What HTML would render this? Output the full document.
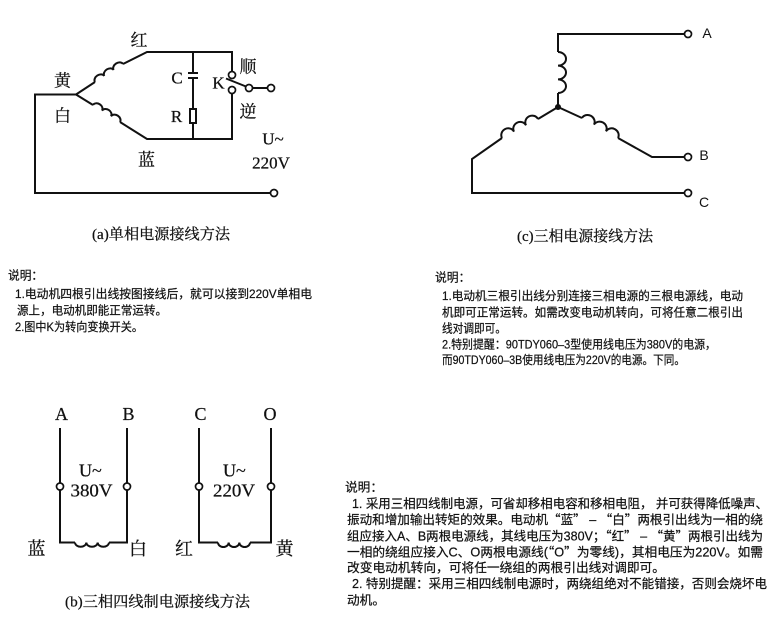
<!DOCTYPE html>
<html><head><meta charset="utf-8"><style>
html,body{margin:0;padding:0;background:#fff;}
svg{display:block;}
.s{font-family:"Liberation Serif","Noto Serif CJK SC",serif;fill:#111;stroke:#111;stroke-width:0.25;}
.p{font-family:"Liberation Sans","Noto Sans CJK SC",sans-serif;fill:#111;stroke:#111;stroke-width:0.22;}
.q{font-family:"Noto Sans CJK SC",sans-serif;}
.a{font-family:"Liberation Sans",sans-serif;fill:#111;}
</style></head><body>
<svg width="777" height="640" viewBox="0 0 777 640" xmlns="http://www.w3.org/2000/svg">
<g fill="none" stroke="#111" stroke-width="2" stroke-linejoin="miter">
<!-- (a) -->
<path d="M270.5,193 H35 V94.5 H76"/>
<path d="M76,94.5 L95,82"/>
<path transform="translate(95,82) rotate(-32.7)" d="M0,0 a5.55,4.2 0 0 1 11.1,0 a5.55,4.2 0 0 1 11.1,0 a5.55,4.2 0 0 1 11.1,0"/>
<path d="M123,64 L147,52 H232 V71.5"/>
<path d="M76,94.5 L93,105"/>
<path transform="translate(93,105) rotate(32.2)" d="M0,0 a5.3,4.2 0 0 1 10.63,0 a5.3,4.2 0 0 1 10.63,0 a5.3,4.2 0 0 1 10.63,0"/>
<path d="M120,122 L147,139 H232 V93.5"/>
<path d="M193,52 V73 M188,73 H198 M188,78 H198 M193,78 V109 M193,123 V139"/>
<rect x="190" y="109" width="6" height="14"/>
<path d="M252.5,88 H267.5"/>
<path d="M246,86.5 L226,78.5"/>
<!-- (c) -->
<path d="M684.5,34 H558 V52"/>
<path transform="translate(558,52) rotate(90)" d="M0,0 a6.83,8 0 0 1 13.67,0 a6.83,8 0 0 1 13.67,0 a6.83,8 0 0 1 13.67,0"/>
<path d="M558,93 V107 L582,118"/>
<path transform="translate(582,118) rotate(29.05)" d="M0,0 a6.87,6.5 0 0 1 13.73,0 a6.87,6.5 0 0 1 13.73,0 a6.87,6.5 0 0 1 13.73,0"/>
<path d="M618,138 L652,157 H684.5"/>
<path d="M558,107 L538,119"/>
<path transform="translate(502,138) rotate(-27.8)" d="M0,0 a6.78,6.5 0 0 1 13.57,0 a6.78,6.5 0 0 1 13.57,0 a6.78,6.5 0 0 1 13.57,0"/>
<path d="M502,138 L472,159 V193 H684.5"/>
<!-- (b) -->
<path d="M60,428 V483 M60,490 V542.5 H75"/>
<path transform="translate(75,542.5)" d="M0,0 a5.67,4.5 0 0 0 11.33,0 a5.67,4.5 0 0 0 11.33,0 a5.67,4.5 0 0 0 11.33,0"/>
<path d="M109,542.5 H127 V490 M127,483 V428"/>
<path d="M199,428 V483 M199,490 V542.5 H218"/>
<path transform="translate(218,542.5)" d="M0,0 a5.33,4.5 0 0 0 10.67,0 a5.33,4.5 0 0 0 10.67,0 a5.33,4.5 0 0 0 10.67,0"/>
<path d="M250,542.5 H271 V490 M271,483 V428"/>
</g>
<g fill="#fff" stroke="#111" stroke-width="1.7">
<circle cx="274" cy="193" r="3.5"/>
<circle cx="232" cy="75" r="3.5"/>
<circle cx="232" cy="90" r="3.5"/>
<circle cx="249" cy="88" r="3.5"/>
<circle cx="271" cy="88" r="3.5"/>
<circle cx="688" cy="34" r="3.5"/>
<circle cx="688" cy="157" r="3.5"/>
<circle cx="688" cy="193" r="3.5"/>
<circle cx="60" cy="486.5" r="3.5"/>
<circle cx="127" cy="486.5" r="3.5"/>
<circle cx="199" cy="486.5" r="3.5"/>
<circle cx="271" cy="486.5" r="3.5"/>
</g>
<circle cx="558" cy="107" r="3" fill="#111"/>

<!-- (a) labels -->
<g class="s" font-size="17" text-anchor="middle">
<text x="139" y="46">红</text>
<text x="62.5" y="86.5">黄</text>
<text x="62.5" y="121.5">白</text>
<text x="146.5" y="165.5">蓝</text>
<text x="248" y="72.5">顺</text>
<text x="248" y="117.5">逆</text>
<text x="177" y="83.6">C</text>
<text x="176.5" y="122">R</text>
<text x="218.5" y="88.6">K</text>
<text x="273" y="144.6">U~</text>
<text x="271" y="168.6">220V</text>
</g>
<text class="s" font-size="15" x="92" y="239" textLength="138" lengthAdjust="spacingAndGlyphs">(a)单相电源接线方法</text>

<!-- (c) labels -->
<g class="a" font-size="14" text-anchor="middle">
<text x="707" y="38">A</text>
<text x="704" y="160">B</text>
<text x="704" y="207">C</text>
</g>
<text class="s" font-size="15" x="517" y="241" textLength="136" lengthAdjust="spacingAndGlyphs">(c)三相电源接线方法</text>

<!-- (b) labels -->
<g class="s" font-size="18" text-anchor="middle">
<text x="61.5" y="420">A</text>
<text x="128.5" y="420">B</text>
<text x="200.5" y="420">C</text>
<text x="270" y="420">O</text>
<text x="36.5" y="555">蓝</text>
<text x="138" y="555">白</text>
<text x="184" y="555">红</text>
<text x="284.5" y="555">黄</text>
</g>
<g class="s" font-size="18">
<text x="79" y="476.5">U~</text>
<text x="70.5" y="496.5" textLength="42" lengthAdjust="spacingAndGlyphs">380V</text>
<text x="223" y="476.5">U~</text>
<text x="213" y="496.5" textLength="42" lengthAdjust="spacingAndGlyphs">220V</text>
</g>
<text class="s" font-size="15" x="65" y="606.5" textLength="185" lengthAdjust="spacingAndGlyphs">(b)三相四线制电源接线方法</text>

<!-- text block 1 -->
<g class="p" font-size="11.7">
<text x="8" y="279.5">说明：</text>
<text x="15" y="297.8" textLength="297" lengthAdjust="spacingAndGlyphs">1.电动机四根引出线按图接线后，就可以接到220V单相电</text>
<text x="17" y="314.5" textLength="150" lengthAdjust="spacingAndGlyphs">源上，电动机即能正常运转。</text>
<text x="15" y="331.2" textLength="128" lengthAdjust="spacingAndGlyphs">2.图中K为转向变换开关。</text>
</g>

<!-- text block 2 -->
<g class="p" font-size="11.8">
<text x="435" y="281.5">说明：</text>
<text x="442" y="300" textLength="301" lengthAdjust="spacingAndGlyphs">1.电动机三根引出线分别连接三相电源的三根电源线，电动</text>
<text x="442" y="316.3" textLength="301" lengthAdjust="spacingAndGlyphs">机即可正常运转。如需改变电动机转向，可将任意二根引出</text>
<text x="442" y="332.3" textLength="64" lengthAdjust="spacingAndGlyphs">线对调即可。</text>
<text x="442" y="348.3" textLength="274" lengthAdjust="spacingAndGlyphs">2.特别提醒：90TDY060–3型使用线电压为380V的电源，</text>
<text x="442" y="364" textLength="243" lengthAdjust="spacingAndGlyphs">而90TDY060–3B使用线电压为220V的电源。下同。</text>
</g>

<!-- text block 3 -->
<g class="p" font-size="12.7">
<text x="345" y="491.5">说明：</text>
<text x="352" y="508" textLength="416" lengthAdjust="spacingAndGlyphs">1. 采用三相四线制电源，可省却移相电容和移相电阻， 并可获得降低噪声、</text>
<text x="347" y="524" textLength="416" lengthAdjust="spacingAndGlyphs">振动和增加输出转矩的效果。电动机<tspan class="q">“</tspan>蓝<tspan class="q">”</tspan> – <tspan class="q">“</tspan>白<tspan class="q">”</tspan>两根引出线为一相的绕</text>
<text x="347" y="540.7" textLength="416" lengthAdjust="spacingAndGlyphs">组应接入A、B两根电源线，其线电压为380V；<tspan class="q">“</tspan>红<tspan class="q">”</tspan> – <tspan class="q">“</tspan>黄<tspan class="q">”</tspan>两根引出线为</text>
<text x="347" y="556.5" textLength="416" lengthAdjust="spacingAndGlyphs">一相的绕组应接入C、O两根电源线(<tspan class="q">“</tspan>O<tspan class="q">”</tspan>为零线)，其相电压为220V。如需</text>
<text x="347" y="572" textLength="318" lengthAdjust="spacingAndGlyphs">改变电动机转向，可将任一绕组的两根引出线对调即可。</text>
<text x="352" y="588" textLength="415" lengthAdjust="spacingAndGlyphs">2. 特别提醒：采用三相四线制电源时，两绕组绝对不能错接，否则会烧坏电</text>
<text x="347" y="604.7" textLength="38" lengthAdjust="spacingAndGlyphs">动机。</text>
</g>
</svg>
</body></html>
